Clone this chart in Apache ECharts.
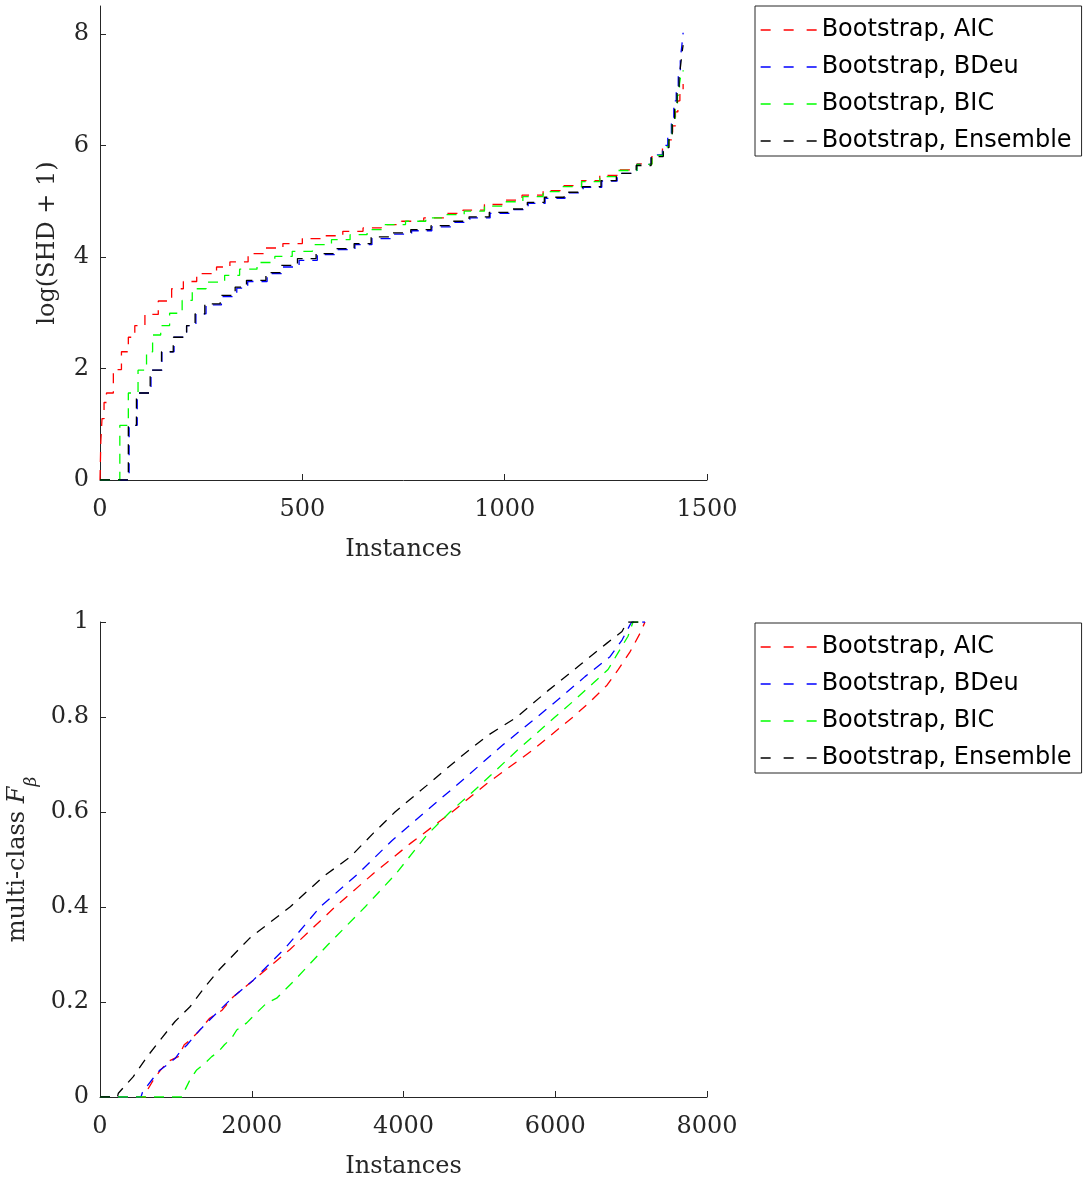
<!DOCTYPE html>
<html>
<head>
<meta charset="utf-8">
<script src="https://cdn.jsdelivr.net/npm/echarts@6/dist/echarts.min.js"></script>
<style>
html,body{margin:0;padding:0;background:#fff;}
#chart{width:1086px;height:1179px;}
</style>
</head>
<body>
<div id="chart"></div>
<script>
// ---- Top panel: log(SHD + 1) vs Instances (sorted, step curves) ----
const seriesNames = ['Bootstrap, AIC', 'Bootstrap, BDeu', 'Bootstrap, BIC', 'Bootstrap, Ensemble'];
const seriesColors = ['#ff0000', '#0000ff', '#00ff00', '#000000'];

const shdAIC = [[0,0],[2,0.69],[5,1.1],[10,1.39],[16,1.56],[33,1.98],[53,2.3],[70,2.56],[86,2.77],[111,2.97],[144,3.21],[177,3.43],[206,3.56],[239,3.70],[288,3.82],[321,3.91],[366,4.06],[405,4.16],[452,4.24],[500,4.33],[550,4.38],[600,4.46],[650,4.52],[695,4.58],[745,4.64],[800,4.70],[855,4.78],[897,4.84],[950,4.94],[1000,5.02],[1043,5.11],[1095,5.19],[1141,5.28],[1190,5.37],[1235,5.46],[1280,5.56],[1327,5.67],[1364,5.82],[1390,5.98],[1405,6.1],[1415,6.35],[1422,6.6],[1428,6.8],[1433,7.0],[1441,7.1]];
const shdBDeu = [[0,0],[72,0.98],[92,1.56],[126,1.97],[153,2.30],[183,2.56],[214,2.77],[237,2.98],[262,3.14],[300,3.29],[338,3.44],[365,3.56],[413,3.70],[452,3.82],[492,3.94],[537,4.04],[585,4.13],[630,4.22],[672,4.33],[721,4.41],[770,4.47],[820,4.54],[868,4.62],[914,4.70],[964,4.78],[1013,4.85],[1058,4.96],[1100,5.05],[1149,5.15],[1194,5.25],[1240,5.36],[1278,5.50],[1327,5.66],[1362,5.83],[1390,6.0],[1403,6.2],[1412,6.5],[1418,6.8],[1424,7.05],[1429,7.3],[1434,7.55],[1438,7.8],[1441,8.02]];
const shdBIC = [[0,0],[49,0.98],[70,1.56],[94,1.97],[115,2.3],[130,2.6],[150,2.77],[172,2.99],[203,3.22],[228,3.43],[262,3.55],[308,3.67],[345,3.78],[388,3.90],[432,4.01],[475,4.10],[525,4.22],[572,4.31],[618,4.40],[660,4.49],[705,4.58],[755,4.64],[805,4.70],[855,4.76],[900,4.82],[950,4.91],[1000,4.99],[1045,5.08],[1095,5.17],[1140,5.26],[1190,5.35],[1235,5.44],[1280,5.55],[1327,5.66],[1364,5.82],[1392,5.98],[1405,6.1],[1414,6.4],[1421,6.65],[1427,6.9],[1432,7.1],[1436,7.3],[1441,7.35]];
const shdEnsemble = [[0,0],[70,0.98],[90,1.56],[124,1.97],[152,2.30],[181,2.56],[214,2.77],[235,2.98],[259,3.16],[297,3.31],[334,3.46],[362,3.58],[410,3.72],[447,3.85],[488,3.97],[534,4.06],[583,4.15],[628,4.24],[670,4.36],[719,4.43],[768,4.49],[818,4.56],[866,4.64],[912,4.72],[962,4.80],[1011,4.86],[1056,4.98],[1098,5.07],[1147,5.16],[1192,5.26],[1238,5.37],[1276,5.50],[1325,5.64],[1362,5.80],[1392,5.96],[1406,6.15],[1414,6.45],[1420,6.7],[1426,6.95],[1431,7.2],[1435,7.45],[1439,7.7],[1441,7.8]];

// ---- Bottom panel: multi-class F_beta vs Instances (sorted) ----
const fbAIC = [[0,0],[600,0],[615,0.012],[700,0.035],[790,0.055],[900,0.075],[1032,0.085],[1110,0.11],[1186,0.12],[1300,0.138],[1440,0.165],[1604,0.182],[1750,0.21],[2021,0.246],[2500,0.31],[3097,0.4],[3600,0.47],[4100,0.535],[4640,0.6],[5100,0.66],[5700,0.73],[6234,0.8],[6459,0.832],[6682,0.867],[6827,0.899],[6985,0.937],[7117,0.976],[7183,1.0]];
const fbBDeu = [[0,0],[540,0],[560,0.01],[615,0.022],[703,0.04],[791,0.057],[879,0.067],[989,0.081],[1054,0.095],[1143,0.109],[1274,0.134],[1406,0.156],[1538,0.177],[1757,0.211],[2021,0.246],[2450,0.315],[2900,0.4],[3400,0.47],[3850,0.54],[4284,0.6],[4800,0.67],[5300,0.74],[5760,0.8],[6100,0.845],[6392,0.885],[6722,0.927],[6880,0.962],[6985,0.994],[7010,1.0],[7183,1.0]];
const fbBIC = [[0,0],[1080,0],[1120,0.015],[1186,0.036],[1274,0.057],[1384,0.071],[1472,0.085],[1560,0.095],[1640,0.11],[1736,0.124],[1802,0.141],[1934,0.156],[2050,0.175],[2197,0.198],[2329,0.208],[2548,0.243],[3000,0.32],[3493,0.4],[3900,0.47],[4300,0.55],[4613,0.6],[5000,0.655],[5500,0.73],[5997,0.8],[6250,0.835],[6498,0.871],[6696,0.9],[6827,0.935],[6959,0.97],[7025,1.0],[7183,1.0]];
const fbEnsemble = [[0,0],[230,0],[242,0.008],[439,0.043],[637,0.088],[813,0.124],[989,0.159],[1186,0.19],[1384,0.232],[1582,0.27],[1977,0.335],[2504,0.4],[2950,0.465],[3295,0.505],[3600,0.555],[3888,0.6],[4300,0.655],[4745,0.715],[5100,0.76],[5496,0.8],[5900,0.855],[6353,0.913],[6678,0.955],[6880,0.98],[6946,1.0],[7140,1.0]];

// ---- Tick labels ----
const topXTicks = [0, 500, 1000, 1500];
const topYTicks = [0, 2, 4, 6, 8];
const botXTicks = [0, 2000, 4000, 6000, 8000];
const botYTicks = [0, 0.2, 0.4, 0.6, 0.8, 1];

const topData = [shdAIC, shdBDeu, shdBIC, shdEnsemble];
const botData = [fbAIC, fbBDeu, fbBIC, fbEnsemble];

const axisColor = '#262626';
const serif = 'DejaVu Serif';
const dash = [10, 8];
const plain = v => String(v);

function xAxisCfg(gridIndex, max, ticks) {
  return {
    type: 'value', gridIndex: gridIndex, min: 0, max: max,
    name: 'Instances', nameLocation: 'middle', nameGap: 58,
    nameTextStyle: { fontFamily: serif, fontSize: 24, color: '#262626' },
    axisLine: { show: true, lineStyle: { color: axisColor, width: 1 } },
    axisTick: { show: true, inside: true, length: 6, customValues: ticks, lineStyle: { color: axisColor } },
    axisLabel: { customValues: ticks, formatter: plain, margin: 18, fontFamily: serif, fontSize: 24, color: '#262626' },
    splitLine: { show: false }
  };
}
function yAxisCfg(gridIndex, max, ticks, name, gap, rich) {
  return {
    type: 'value', gridIndex: gridIndex, min: 0, max: max,
    name: name, nameLocation: 'middle', nameGap: gap, nameRotate: 90,
    nameTextStyle: { fontFamily: serif, fontSize: 24, color: '#262626', rich: rich },
    axisLine: { show: true, lineStyle: { color: axisColor, width: 1 } },
    axisTick: { show: true, inside: true, length: 6, customValues: ticks, lineStyle: { color: axisColor } },
    axisLabel: { customValues: ticks, formatter: plain, margin: 11, fontFamily: serif, fontSize: 24, color: '#262626' },
    splitLine: { show: false }
  };
}

const series = [];
topData.forEach((d, i) => {
  series.push({
    type: 'line', name: seriesNames[i], xAxisIndex: 0, yAxisIndex: 0, data: d,
    step: 'end', symbol: 'none', showSymbol: false, animation: false,
    lineStyle: { color: seriesColors[i], width: 1.3, type: dash },
    itemStyle: { color: seriesColors[i] }
  });
});
botData.forEach((d, i) => {
  series.push({
    type: 'line', name: seriesNames[i], xAxisIndex: 1, yAxisIndex: 1, data: d,
    symbol: 'none', showSymbol: false, animation: false,
    lineStyle: { color: seriesColors[i], width: 1.3, type: dash },
    itemStyle: { color: seriesColors[i] }
  });
});

function legendCfg(top) {
  return {
    data: seriesNames, orient: 'vertical', left: 755, top: top,
    selectedMode: false,
    itemWidth: 56, itemHeight: 24, itemGap: 13,
    padding: [12, 10, 3, 5],
    borderColor: '#262626', borderWidth: 1, backgroundColor: '#fff',
    textStyle: { fontFamily: 'DejaVu Sans', fontSize: 24, color: '#000' },
    itemStyle: { opacity: 0 },
    lineStyle: { type: [10, 13], width: 1.3 }
  };
}

const option = {
  backgroundColor: '#fff',
  animation: false,
  grid: [
    { left: 100, top: 6, width: 607, height: 474, outerBoundsMode: 'none', containLabel: false },
    { left: 100, top: 622, width: 607, height: 475, outerBoundsMode: 'none', containLabel: false }
  ],
  xAxis: [ xAxisCfg(0, 1500, topXTicks), xAxisCfg(1, 8000, botXTicks) ],
  yAxis: [
    yAxisCfg(0, 8.5, topYTicks, 'log(SHD + 1)', 40, {}),
    yAxisCfg(1, 1, botYTicks, '{a|multi-class }{f|F}{s|β}', 60, {
      a: { fontFamily: serif, fontSize: 24, color: '#262626', lineHeight: 28, verticalAlign: 'top' },
      f: { fontFamily: serif, fontSize: 24, fontStyle: 'italic', color: '#262626', lineHeight: 28, verticalAlign: 'top' },
      s: { fontFamily: serif, fontSize: 17, fontStyle: 'italic', color: '#262626', lineHeight: 34, verticalAlign: 'bottom' }
    })
  ],
  legend: [ legendCfg(6), legendCfg(623) ],
  series: series
};

const chart = echarts.init(document.getElementById('chart'), null, { renderer: 'canvas' });
chart.setOption(option);
</script>
</body>
</html>
